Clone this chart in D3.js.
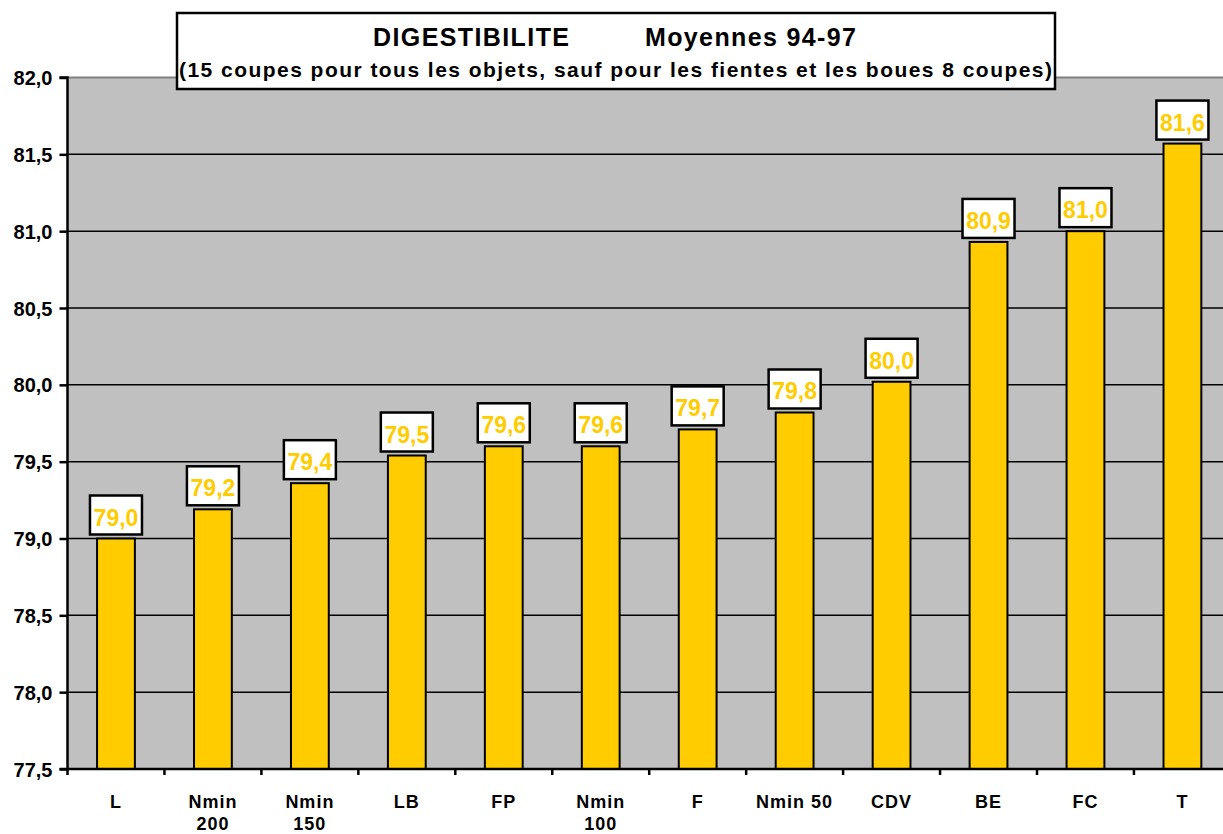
<!DOCTYPE html>
<html>
<head>
<meta charset="utf-8">
<script src="https://cdn.jsdelivr.net/npm/d3@7"></script>
<style>
  html, body { margin: 0; padding: 0; background: #ffffff; }
  svg { display: block; font-family: "Liberation Sans", Arial, Helvetica, sans-serif; font-weight: bold; }
</style>
</head>
<body>
<svg id="chart" width="1223" height="834"></svg>
<script>
// Digestibilité moyenne 94-97 par objet
const categories = ["L", "Nmin\n200", "Nmin\n150", "LB", "FP", "Nmin\n100", "F", "Nmin 50", "CDV", "BE", "FC", "T"];
const values = [79.0, 79.19, 79.36, 79.54, 79.60, 79.60, 79.71, 79.82, 80.02, 80.93, 81.0, 81.57];
const yTicks = [77.5, 78.0, 78.5, 79.0, 79.5, 80.0, 80.5, 81.0, 81.5, 82.0];
const titleMain = "DIGESTIBILITE";
const titlePeriod = "Moyennes 94-97";
const subtitle = "(15 coupes pour tous les objets, sauf pour les fientes et les boues 8 coupes)";

const svg = d3.select("#chart");

const plotLeft = 67.5, bandW = 96.95;
const plotRight = plotLeft + bandW * categories.length;
const plotTop = 77.5, plotBottom = 769;

const x = d3.scaleBand().domain(categories).range([plotLeft, plotRight]).padding(0);
const y = d3.scaleLinear().domain([77.5, 82]).range([plotBottom, plotTop]);
const fmt = v => d3.format(".1f")(v).replace(".", ",");

const YELLOW = "#FFCC00";

// plot background
svg.append("rect")
  .attr("x", plotLeft).attr("y", y(82))
  .attr("width", plotRight - plotLeft).attr("height", y(77.5) - y(82))
  .attr("fill", "#C0C0C0");

// horizontal gridlines
svg.append("g").selectAll("line")
  .data(yTicks.filter(t => t > 77.5))
  .join("line")
  .attr("x1", plotLeft).attr("x2", plotRight)
  .attr("y1", d => y(d)).attr("y2", d => y(d))
  .attr("stroke", d => d === 82 ? "#808080" : "#000000")
  .attr("stroke-width", d => d === 82 ? 2 : 1.5);

// bars
const barW = x.bandwidth() * 0.39;
svg.append("g").selectAll("rect")
  .data(values)
  .join("rect")
  .attr("x", (d, i) => x(categories[i]) + x.bandwidth() / 2 - barW / 2)
  .attr("y", d => y(d))
  .attr("width", barW)
  .attr("height", d => y(77.5) - y(d))
  .attr("fill", YELLOW)
  .attr("stroke", "#000")
  .attr("stroke-width", 2);

// y axis
const yAxis = d3.axisLeft(y).tickValues(yTicks).tickSize(8).tickPadding(8).tickFormat(fmt);
const gy = svg.append("g").attr("transform", `translate(${plotLeft},0)`).call(yAxis);
gy.select(".domain").attr("stroke", "#000").attr("stroke-width", 2.5).attr("d", `M-8,${plotTop}H0V${plotBottom}H-8`);
gy.selectAll(".tick line").attr("stroke", "#000").attr("stroke-width", 2.5);
gy.selectAll(".tick text")
  .attr("font-size", 20).attr("font-weight", "bold").attr("fill", "#000")
  .attr("font-family", "Liberation Sans, Arial, sans-serif")
  .attr("dy", "0.35em").attr("x", -15);

// x axis with boundary ticks
const gx = svg.append("g");
gx.append("line")
  .attr("x1", plotLeft).attr("x2", plotRight)
  .attr("y1", plotBottom).attr("y2", plotBottom)
  .attr("stroke", "#000").attr("stroke-width", 2.5);
gx.selectAll("line.tk")
  .data(d3.range(categories.length + 1))
  .join("line").attr("class", "tk")
  .attr("x1", i => plotLeft + i * x.step()).attr("x2", i => plotLeft + i * x.step())
  .attr("y1", plotBottom).attr("y2", plotBottom + 6)
  .attr("stroke", "#000").attr("stroke-width", 2.5);

const xl = gx.selectAll("text.cat")
  .data(categories)
  .join("text").attr("class", "cat")
  .attr("x", d => x(d) + x.bandwidth() / 2)
  .attr("y", 808)
  .attr("text-anchor", "middle")
  .attr("font-size", 18)
  .attr("letter-spacing", "1px")
  .attr("fill", "#000");
xl.selectAll("tspan")
  .data(d => d.split("\n").map(s => ({ s, cx: x(d) + x.bandwidth() / 2 })))
  .join("tspan")
  .attr("x", d => d.cx)
  .attr("dy", (d, i) => i === 0 ? 0 : 22)
  .text(d => d.s);

// value labels in boxes
const boxW = 52, boxH = 39;
const lab = svg.append("g").selectAll("g")
  .data(values)
  .join("g")
  .attr("transform", (d, i) => `translate(${x(categories[i]) + x.bandwidth() / 2},${y(d) - 4})`);
lab.append("rect")
  .attr("x", -boxW / 2).attr("y", -boxH)
  .attr("width", boxW).attr("height", boxH)
  .attr("fill", "#fff").attr("stroke", "#000").attr("stroke-width", 2.5);
lab.append("text")
  .attr("y", -9)
  .attr("text-anchor", "middle")
  .attr("font-size", 23)
  .attr("fill", YELLOW)
  .text(d => fmt(d));

// title box
const tb = svg.append("g");
tb.append("rect")
  .attr("x", 177).attr("y", 13).attr("width", 878).attr("height", 76)
  .attr("fill", "#fff").attr("stroke", "#000").attr("stroke-width", 2.5);
tb.append("text")
  .attr("x", 373).attr("y", 46).attr("font-size", 25)
  .attr("textLength", 196).attr("lengthAdjust", "spacing")
  .attr("fill", "#000").text(titleMain);
tb.append("text")
  .attr("x", 645).attr("y", 46).attr("font-size", 25)
  .attr("textLength", 211).attr("lengthAdjust", "spacing")
  .attr("fill", "#000").text(titlePeriod);
tb.append("text")
  .attr("x", 179).attr("y", 77).attr("font-size", 21)
  .attr("textLength", 873).attr("lengthAdjust", "spacing")
  .attr("fill", "#000").text(subtitle);
</script>
</body>
</html>
